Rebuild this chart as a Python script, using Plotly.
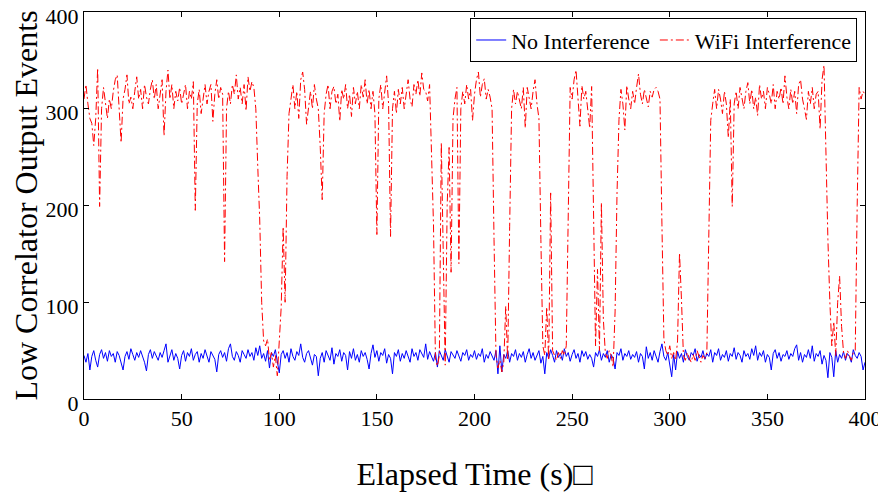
import plotly.graph_objects as go

# Elapsed time in seconds (one sample per second)
time_s = list(range(0, 401))

# "No Interference" series
no_interference = [
    45, 38, 47, 30, 44, 50, 40, 33, 46, 51, 42, 48, 39, 50, 44, 47, 38, 49, 45, 36,
    30, 44, 49, 41, 52, 46, 40, 48, 43, 50, 45, 38, 29, 46, 51, 42, 49, 44, 40, 48,
    43, 50, 57, 38, 46, 51, 40, 47, 42, 31, 45, 50, 39, 48, 44, 52, 40, 46, 49, 38,
    47, 42, 51, 44, 38, 49, 45, 41, 28, 46, 50, 43, 48, 39, 52, 57, 44, 40, 49, 45,
    38, 50, 46, 42, 51, 44, 48, 40, 53, 45, 55, 42, 47, 39, 50, 32, 48, 44, 51, 40,
    27, 46, 50, 42, 48, 38, 52, 44, 40, 49, 45, 57, 43, 38, 47, 50, 41, 35, 46, 44,
    24, 42, 48, 38, 50, 45, 40, 53, 36, 47, 44, 51, 39, 48, 45, 30, 49, 42, 52, 40,
    46, 38, 50, 44, 48, 41, 31, 47, 56, 43, 50, 39, 48, 45, 52, 37, 46, 42, 26, 48,
    44, 51, 39, 47, 42, 50, 45, 38, 52, 44, 48, 40, 51, 46, 43, 57, 41, 49, 44, 39,
    48, 33, 50, 44, 40, 51, 45, 38, 49, 46, 42, 50, 44, 39, 48, 45, 51, 40, 46, 43,
    50, 41, 47, 44, 52, 38, 46, 42, 49, 45, 40, 50, 26, 55, 28, 46, 42, 50, 38, 47,
    44, 51, 40, 47, 43, 49, 38, 46, 52, 42, 48, 40, 45, 50, 37, 44, 26, 48, 42, 51,
    45, 38, 50, 43, 47, 40, 52, 44, 48, 39, 46, 51, 42, 47, 38, 50, 44, 49, 41, 46,
    42, 33, 48, 44, 51, 40, 47, 43, 50, 38, 46, 42, 31, 48, 45, 52, 40, 47, 44, 50,
    41, 46, 43, 49, 38, 47, 44, 31, 54, 42, 48, 40, 50, 45, 38, 49, 57, 44, 40, 48,
    36, 23, 46, 30, 49, 42, 47, 38, 51, 44, 40, 48, 45, 52, 39, 46, 43, 50, 41, 47,
    44, 51, 38, 48, 45, 52, 40, 46, 43, 50, 39, 47, 44, 53, 41, 48, 45, 38, 50, 44,
    47, 41, 52, 45, 55, 40, 48, 44, 50, 38, 46, 43, 30, 47, 51, 42, 48, 39, 46, 44,
    50, 41, 47, 44, 52, 56, 40, 48, 38, 46, 43, 51, 42, 55, 39, 47, 44, 50, 36, 45,
    40, 22, 48, 43, 23, 50, 38, 46, 42, 49, 40, 47, 44, 38, 51, 45, 42, 48, 44, 30,
    38,
]

# "WiFi Interference" series
wifi_interference = [
    310, 325, 305, 290, 285, 262, 290, 342, 199, 300, 322, 305, 290, 310, 300, 318, 330, 335, 300, 265,
    310, 320, 335, 305, 312, 300, 318, 333, 310, 320, 300, 325, 312, 305, 320, 330, 310, 325, 300, 315,
    330, 272, 318, 340, 310, 325, 300, 318, 308, 322, 305, 315, 325, 300, 318, 310, 328, 195, 305, 320,
    295, 310, 325, 305, 318, 325, 287, 315, 330, 310, 322, 315, 142, 300, 318, 305, 325, 315, 335, 310,
    322, 305, 325, 298, 333, 318, 328, 322, 300, 240, 185, 100, 60, 55, 62, 40, 48, 33, 45, 24,
    55, 95, 178, 100, 230, 295, 310, 325, 300, 318, 290, 330, 338, 320, 284, 305, 318, 300, 325, 310,
    300, 260, 206, 295, 315, 325, 300, 318, 323, 305, 315, 287, 320, 310, 325, 300, 315, 292, 322, 305,
    318, 300, 325, 312, 330, 305, 320, 300, 318, 295, 170, 310, 325, 300, 318, 334, 305, 168, 300, 318,
    295, 320, 305, 322, 300, 318, 330, 310, 302, 325, 315, 330, 313, 337, 320, 318, 308, 325, 260, 180,
    41, 34, 45, 265, 150, 35, 200, 260, 131, 290, 310, 322, 140, 300, 318, 305, 325, 310, 320, 288,
    315, 330, 338, 312, 325, 331, 310, 320, 312, 300, 165, 45, 32, 40, 28, 38, 96, 40, 178, 300,
    320, 305, 318, 310, 300, 322, 280, 322, 310, 300, 318, 330, 305, 290, 165, 55, 45, 95, 40, 213,
    50, 45, 40, 48, 42, 50, 45, 55, 180, 322, 310, 330, 340, 315, 282, 324, 310, 318, 295, 280,
    323, 180, 55, 134, 50, 203, 82, 48, 42, 50, 45, 33, 90, 213, 289, 320, 305, 278, 324, 310,
    300, 318, 305, 322, 336, 315, 305, 320, 310, 302, 318, 312, 320, 322, 318, 310, 180, 62, 50, 45,
    55, 42, 48, 40, 60, 151, 103, 45, 40, 48, 42, 38, 46, 40, 50, 44, 38, 45, 42, 48,
    165, 288, 305, 320, 300, 320, 310, 295, 318, 305, 270, 310, 199, 305, 318, 300, 322, 312, 300, 318,
    327, 305, 320, 300, 312, 293, 325, 310, 318, 300, 322, 315, 305, 325, 300, 318, 310, 322, 305, 334,
    312, 300, 320, 305, 318, 295, 325, 330, 310, 300, 289, 318, 305, 322, 300, 315, 318, 279, 330, 345,
    250, 165, 100, 55, 80, 45, 100, 127, 75, 48, 42, 50, 45, 40, 48, 50, 200, 322, 310, 318,
    315,
]

x_ticks = [0, 50, 100, 150, 200, 250, 300, 350, 400]
y_ticks = [0, 100, 200, 300, 400]

FONT = "Liberation Serif, Times New Roman, serif"

fig = go.Figure()
fig.add_trace(go.Scatter(
    x=time_s, y=no_interference, mode="lines", name="No Interference",
    line=dict(color="#0000ff", width=1),
))
fig.add_trace(go.Scatter(
    x=time_s, y=wifi_interference, mode="lines", name="WiFi Interference",
    line=dict(color="#ff0000", width=1, dash="8px,3px,2px,3px"),
))

axis_common = dict(
    showgrid=False, zeroline=False, showline=True, linecolor="black", linewidth=1,
    mirror="ticks", ticks="inside", ticklen=5, tickwidth=1, tickcolor="black",
    tickfont=dict(family=FONT, size=22, color="black"),
    automargin=False, ticklabeloverflow="allow",
)

fig.update_xaxes(
    range=[0, 400], tickvals=x_ticks, ticktext=[str(v) for v in x_ticks],
    title=dict(text="Elapsed Time (s)\u25a1", font=dict(family=FONT, size=32, color="black"), standoff=32),
    **axis_common,
)
fig.update_yaxes(
    range=[0, 400], tickvals=y_ticks, ticktext=[str(v) for v in y_ticks],
    ticklabelshift=4,
    title=dict(text="Low Correlator Output Events", font=dict(family=FONT, size=32, color="black"), standoff=2),
    **axis_common,
)

# The page body has an 8px default margin, so the figure is sized 8px smaller
# and its left/top margins are reduced to keep the plot area where the reference has it.
fig.update_layout(
    width=878, height=488,
    margin=dict(l=76, r=21, t=4, b=97),
    paper_bgcolor="white", plot_bgcolor="white",
    font=dict(family=FONT, color="black"),
    legend=dict(
        orientation="h", x=0.99, y=0.984, xanchor="right", yanchor="top",
        bgcolor="white", bordercolor="black", borderwidth=1,
        font=dict(family=FONT, size=22, color="black"),
        itemwidth=30, tracegroupgap=0,
    ),
    showlegend=True,
)

fig.write_html("out.html")
